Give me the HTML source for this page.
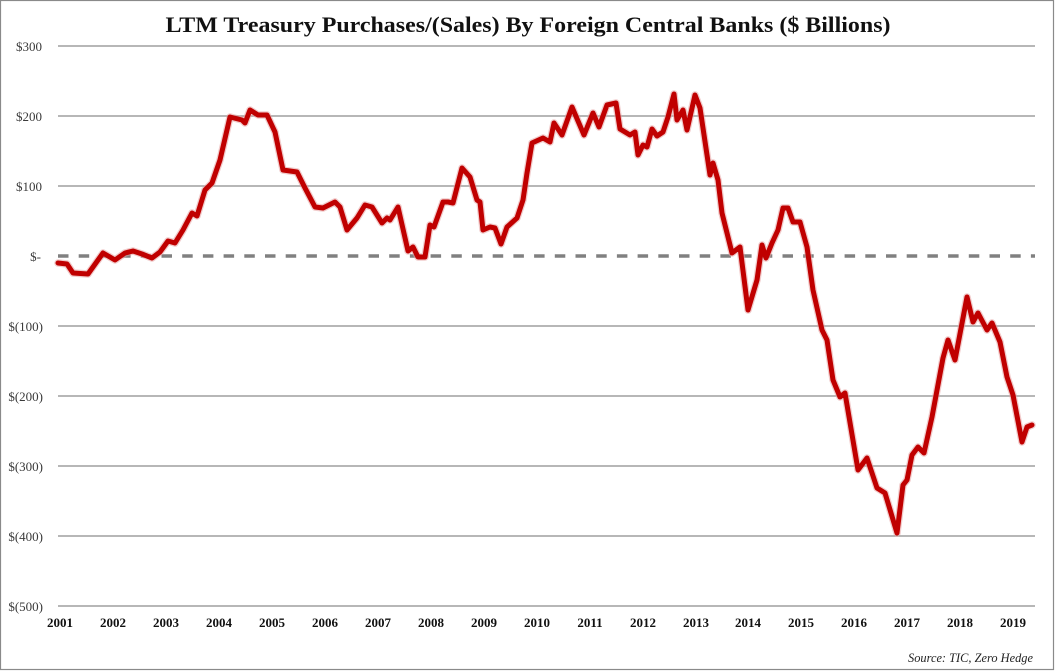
<!DOCTYPE html>
<html>
<head>
<meta charset="utf-8">
<style>
html,body{margin:0;padding:0;background:#fff;}
svg{display:block;}
</style>
</head>
<body>
<svg width="1056" height="671" viewBox="0 0 1056 671" xmlns="http://www.w3.org/2000/svg">
<rect x="0" y="0" width="1056" height="671" fill="#fff"/>
<rect x="0.5" y="0.5" width="1053" height="669" fill="none" stroke="#8a8a8a" stroke-width="1.2"/>

<text x="528" y="32" text-anchor="middle" textLength="725" lengthAdjust="spacingAndGlyphs" font-family="Liberation Serif, serif" font-weight="bold" font-size="22" fill="#111">LTM Treasury Purchases/(Sales) By Foreign Central Banks ($ Billions)</text>

<g stroke="#8c8c8c" stroke-width="1.2">
<line x1="58" y1="46" x2="1035" y2="46"/>
<line x1="58" y1="116" x2="1035" y2="116"/>
<line x1="58" y1="186" x2="1035" y2="186"/>
<line x1="58" y1="326" x2="1035" y2="326"/>
<line x1="58" y1="396" x2="1035" y2="396"/>
<line x1="58" y1="466" x2="1035" y2="466"/>
<line x1="58" y1="536" x2="1035" y2="536"/>
<line x1="58" y1="606" x2="1035" y2="606"/>
</g>
<line x1="58" y1="256" x2="1035" y2="256" stroke="#808080" stroke-width="3.5" stroke-dasharray="10.5,10.2"/>

<g font-family="Liberation Serif, serif" font-size="13" fill="#3a3a3a" text-anchor="end">
<text x="42" y="51">$300</text>
<text x="42" y="121">$200</text>
<text x="42" y="191">$100</text>
<text x="41" y="261">$-</text>
<text x="43" y="331">$(100)</text>
<text x="43" y="401">$(200)</text>
<text x="43" y="471">$(300)</text>
<text x="43" y="541">$(400)</text>
<text x="43" y="611">$(500)</text>
</g>

<g font-family="Liberation Serif, serif" font-size="13" font-weight="bold" fill="#111" text-anchor="middle">
<text x="60" y="627">2001</text>
<text x="113" y="627">2002</text>
<text x="166" y="627">2003</text>
<text x="219" y="627">2004</text>
<text x="272" y="627">2005</text>
<text x="325" y="627">2006</text>
<text x="378" y="627">2007</text>
<text x="431" y="627">2008</text>
<text x="484" y="627">2009</text>
<text x="537" y="627">2010</text>
<text x="590" y="627">2011</text>
<text x="643" y="627">2012</text>
<text x="696" y="627">2013</text>
<text x="748" y="627">2014</text>
<text x="801" y="627">2015</text>
<text x="854" y="627">2016</text>
<text x="907" y="627">2017</text>
<text x="960" y="627">2018</text>
<text x="1013" y="627">2019</text>
</g>

<text x="1033" y="662" text-anchor="end" textLength="125" lengthAdjust="spacingAndGlyphs" font-family="Liberation Serif, serif" font-style="italic" font-size="13" fill="#222">Source: TIC, Zero Hedge</text>

<g fill="none" stroke-linejoin="round" stroke-linecap="round">
<polyline stroke="#e6a3a3" stroke-opacity="0.55" stroke-width="7.5" points="58,263 67,264 73,273 88,274 103,253 115,260 125,253 133,251 142,254 152,258 160,252 168,241 175,243 183,230 192,213 197,216 205,190 212,183 220,160 230,117 242,120 245,123 250,110 258,115 267,115 275,132 283,170 297,172 305,188 315,207 323,208 335,202 340,207 347,230 357,218 365,205 372,207 382,223 387,218 390,220 398,207 408,251 413,247 418,257 425,257 430,225 434,227 443,202 448,202 453,203 462,168 470,177 477,200 480,202 483,230 490,227 495,228 501,244 507,227 517,218 523,200 527,173 532,143 543,138 550,142 554,123 562,135 572,107 584,135 593,113 599,127 607,105 616,103 620,129 630,135 635,132 638,155 643,145 647,147 652,129 657,136 663,132 668,117 674,94 677,120 683,110 687,130 695,95 700,108 710,175 713,163 718,180 722,213 732,253 740,247 748,310 757,280 762,245 766,258 772,243 778,230 783,208 788,208 793,222 800,222 807,247 813,290 822,330 827,340 833,380 840,397 845,393 858,470 867,458 877,488 885,493 897,533 903,485 907,480 912,455 918,447 924,453 932,417 943,358 948,340 955,360 967,297 973,322 978,313 987,330 992,323 1000,342 1007,377 1013,395 1022,442 1027,427 1032,425"/>
<polyline stroke="#c00000" stroke-width="5" points="58,263 67,264 73,273 88,274 103,253 115,260 125,253 133,251 142,254 152,258 160,252 168,241 175,243 183,230 192,213 197,216 205,190 212,183 220,160 230,117 242,120 245,123 250,110 258,115 267,115 275,132 283,170 297,172 305,188 315,207 323,208 335,202 340,207 347,230 357,218 365,205 372,207 382,223 387,218 390,220 398,207 408,251 413,247 418,257 425,257 430,225 434,227 443,202 448,202 453,203 462,168 470,177 477,200 480,202 483,230 490,227 495,228 501,244 507,227 517,218 523,200 527,173 532,143 543,138 550,142 554,123 562,135 572,107 584,135 593,113 599,127 607,105 616,103 620,129 630,135 635,132 638,155 643,145 647,147 652,129 657,136 663,132 668,117 674,94 677,120 683,110 687,130 695,95 700,108 710,175 713,163 718,180 722,213 732,253 740,247 748,310 757,280 762,245 766,258 772,243 778,230 783,208 788,208 793,222 800,222 807,247 813,290 822,330 827,340 833,380 840,397 845,393 858,470 867,458 877,488 885,493 897,533 903,485 907,480 912,455 918,447 924,453 932,417 943,358 948,340 955,360 967,297 973,322 978,313 987,330 992,323 1000,342 1007,377 1013,395 1022,442 1027,427 1032,425"/>
</g>
</svg>
</body>
</html>
